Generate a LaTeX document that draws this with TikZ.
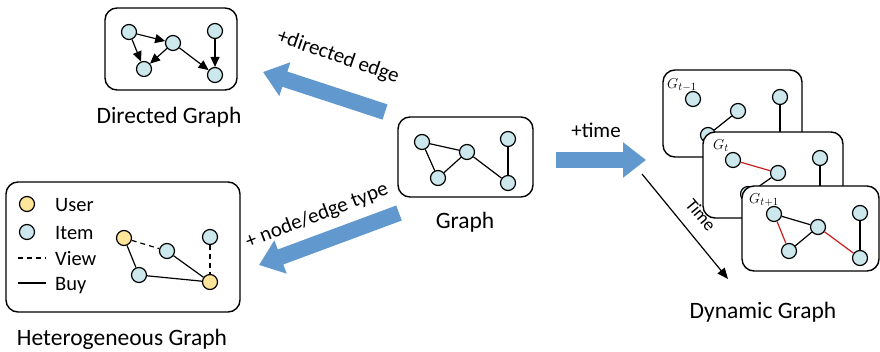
\documentclass[tikz,border=0pt]{standalone}
\usepackage{fontspec}
\setmainfont{Carlito}
\usetikzlibrary{arrows.meta}
\definecolor{nodeblue}{RGB}{204,232,236}
\definecolor{nodeyellow}{RGB}{255,229,153}
\definecolor{arrowblue}{RGB}{97,153,206}
\definecolor{edgered}{RGB}{200,30,30}
\tikzset{
  gn/.style={circle,draw=black,fill=nodeblue,line width=1.2pt,minimum size=15pt,inner sep=0pt},
  yn/.style={gn,fill=nodeyellow},
  gbox/.style={draw=black,line width=1.4pt,rounded corners=12pt,fill=white},
  ge/.style={line width=1.2pt,draw=black},
  gre/.style={line width=1.2pt,draw=edgered},
  dir/.style={ge,-{Triangle[width=9pt,length=10pt]}},
  bigarrow/.style={draw=arrowblue,line width=16pt,-{Triangle[width=34pt,length=23pt]}},
  lbl/.style={font=\fontsize{23.5}{28}\selectfont,inner sep=0pt},
  albl/.style={font=\fontsize{21}{25}\selectfont,inner sep=0pt},
  leg/.style={font=\fontsize{20.5}{24}\selectfont,inner sep=0pt,anchor=west},
  glbl/.style={font=\fontsize{15}{17}\selectfont,inner sep=0pt},
}
\begin{document}
\begin{tikzpicture}[x=1pt,y=-1pt]
\useasboundingbox[fill=white] (0,0) rectangle (880,352);

% ---------- Directed graph ----------
\draw[gbox] (105,8) rectangle (237,90);
\node[gn] (d1) at (129,32) {};
\node[gn] (d2) at (173,43) {};
\node[gn] (d3) at (144,69) {};
\node[gn] (d4) at (215,31) {};
\node[gn] (d5) at (215,75) {};
\draw[dir] (d1) -- (d3);
\draw[dir] (d1) -- (d2);
\draw[dir] (d2) -- (d3);
\draw[dir] (d2) -- (d5);
\draw[dir] (d4) -- (d5);
\node[lbl] (dlab) at (169,117) {Directed Graph};

% ---------- Graph ----------
\draw[gbox] (398,117) rectangle (533,197);
\node[gn] (g1) at (422,142) {};
\node[gn] (g2) at (467,152) {};
\node[gn] (g3) at (438,178) {};
\node[gn] (g4) at (508,139) {};
\node[gn] (g5) at (508,183) {};
\draw[ge] (g1) -- (g2);
\draw[ge] (g1) -- (g3);
\draw[ge] (g3) -- (g2);
\draw[ge] (g2) -- (g5);
\draw[ge] (g4) -- (g5);
\node[lbl] (glab) at (465,222) {Graph};

% ---------- Heterogeneous graph ----------
\draw[gbox] (6,182) rectangle (240,312);
\node[yn] (lu) at (27,204) {};
\node[leg] (tu) at (55,205) {User};
\node[gn] (li) at (27,232) {};
\node[leg] (ti) at (55,233) {Item};
\coordinate (lv1) at (18,258);
\coordinate (lv2) at (46,258);
\draw[ge,dash pattern=on 5pt off 4pt] (lv1) -- (lv2);
\node[leg] (tv) at (55,259) {View};
\coordinate (lb1) at (18,283);
\coordinate (lb2) at (46,283);
\draw[ge] (lb1) -- (lb2);
\node[leg] (tb) at (55,286) {Buy};
\node[yn] (h1) at (124,238) {};
\node[gn] (h2) at (167,251) {};
\node[gn] (h3) at (210,237) {};
\node[gn] (h4) at (139,275) {};
\node[yn] (h5) at (210,282) {};
\draw[ge,dash pattern=on 5pt off 4pt] (h1) -- (h2);
\draw[ge] (h1) -- (h4);
\draw[ge] (h4) -- (h5);
\draw[ge] (h2) -- (h5);
\draw[ge,dash pattern=on 5pt off 4pt] (h3) -- (h5);
\node[lbl] (hlab) at (122,339) {Heterogeneous Graph};

% ---------- Dynamic graph ----------
% box 1
\draw[gbox] (663,70) rectangle (802,157);
\node[glbl] (l1) at (682,85) {$G_{t-1}$};
\node[gn] (a1) at (693,99) {};
\node[gn] (a2) at (738,111) {};
\node[gn] (a3) at (780,97) {};
\node[gn] (a4) at (708,135) {};
\coordinate (a3e) at (780,160);
\draw[ge] (a2) -- (a4);
\draw[ge] (a3) -- (a3e);
% box 2
\draw[gbox] (703,132) rectangle (843,218);
\node[glbl] (l2) at (721,146) {$G_{t}$};
\node[gn] (b1) at (733,160) {};
\node[gn] (b2) at (778,173) {};
\node[gn] (b3) at (820,158) {};
\node[gn] (b4) at (748,194) {};
\coordinate (b3e) at (820,200);
\draw[gre] (b1) -- (b2);
\draw[ge] (b2) -- (b4);
\draw[ge] (b3) -- (b3e);
% box 3
\draw[gbox] (742,186) rectangle (879,271);
\node[glbl] (l3) at (764,200) {$G_{t+1}$};
\node[gn] (c1) at (774,214) {};
\node[gn] (c2) at (818,227) {};
\node[gn] (c3) at (860,213) {};
\node[gn] (c4) at (789,251) {};
\node[gn] (c5) at (860,258) {};
\draw[ge] (c1) -- (c2);
\draw[gre] (c1) -- (c4);
\draw[ge] (c4) -- (c2);
\draw[gre] (c2) -- (c5);
\draw[ge] (c3) -- (c5);
\node[lbl] (ylab) at (763,312) {Dynamic Graph};

% time arrow
\coordinate (ts) at (642,174);
\coordinate (te) at (728,279);
\draw[line width=1.2pt,-{Triangle[width=9pt,length=11pt]}] (ts) -- (te);
\node[font=\fontsize{18}{20}\selectfont,inner sep=0pt,rotate=-50] (tl) at (701,215) {Time};

% ---------- big arrows ----------
\coordinate (A1s) at (385,112);
\coordinate (A1e) at (263,72);
\draw[bigarrow] (A1s) -- (A1e);
\node[albl,rotate=-19] (A1l) at (338,57) {+directed edge};

\coordinate (A2s) at (399,213);
\coordinate (A2e) at (259,265);
\draw[bigarrow] (A2s) -- (A2e);
\node[albl,rotate=21] (A2l) at (317,216) {+ node/edge type};

\coordinate (A3s) at (556,160);
\coordinate (A3e) at (646,160);
\draw[bigarrow] (A3s) -- (A3e);
\node[albl] (A3l) at (596,130) {+time};
\end{tikzpicture}
\end{document}
